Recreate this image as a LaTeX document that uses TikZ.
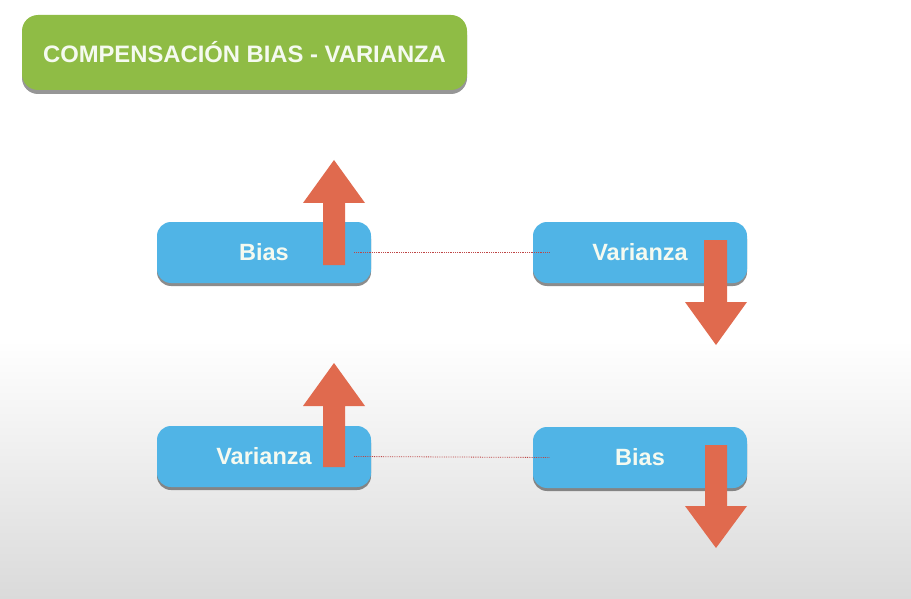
\documentclass[tikz,border=0pt]{standalone}
\usepackage{fontspec}
\setmainfont{Liberation Sans}
\usetikzlibrary{shadows}
\definecolor{titlegreen}{RGB}{143,188,69}
\definecolor{boxblue}{RGB}{80,180,230}
\definecolor{arrowred}{RGB}{224,106,78}
\definecolor{dotred}{RGB}{190,70,70}
\definecolor{txtwhite}{RGB}{245,250,240}
\definecolor{bggray}{RGB}{218,218,218}
\tikzset{
  titlebox/.style={fill=titlegreen, rounded corners=16pt, minimum width=445pt, minimum height=75pt,
    text=txtwhite, font=\fontsize{23.8}{27}\selectfont\bfseries,
    drop shadow={shadow xshift=0pt, shadow yshift=-4pt, opacity=.55, fill=black!75}},
  bluebox/.style={fill=boxblue, rounded corners=14pt, minimum width=214pt, minimum height=61pt,
    text=txtwhite, font=\fontsize{23.5}{27}\selectfont\bfseries,
    drop shadow={shadow xshift=0pt, shadow yshift=-3pt, opacity=.6, fill=black!75}},
  bigarrow/.style={fill=arrowred, draw=none},
  dotlink/.style={draw=dotred, densely dotted, line width=0.8pt}
}
\begin{document}
\begin{tikzpicture}[x=1pt, y=-1pt]
  \useasboundingbox (0,0) rectangle (911,599);
  % background
  \fill[white] (0,0) rectangle (911,341);
  \shade[top color=white, bottom color=bggray] (0,340) rectangle (911,599);

  % title
  \node[titlebox] (title) at (244.5,52.5) {COMPENSACIÓN BIAS - VARIANZA};

  % boxes
  \node[bluebox] (bias1) at (264,252.5) {Bias};
  \node[bluebox] (var1)  at (640,252.5) {Varianza};
  \node[bluebox] (var2)  at (264,456.5) {Varianza};
  \node[bluebox] (bias2) at (640,457.5) {Bias};

  % dotted links
  \draw[dotlink] ([xshift=-17pt]bias1.east) -- ([xshift=17pt]var1.west);
  \draw[dotlink] ([xshift=-17pt]var2.east) -- ([xshift=17pt]bias2.west);

  % arrows up
  \fill[bigarrow] (323,265) -- (323,203) -- (303,203) -- (334,160) -- (365,203) -- (345,203) -- (345,265) -- cycle;
  \fill[bigarrow] (323,467) -- (323,406) -- (303,406) -- (334,363) -- (365,406) -- (345,406) -- (345,467) -- cycle;
  % arrows down
  \fill[bigarrow] (704,240) -- (704,302) -- (685,302) -- (716,345) -- (747,302) -- (727,302) -- (727,240) -- cycle;
  \fill[bigarrow] (705,445) -- (705,506) -- (685,506) -- (716,548) -- (747,506) -- (727,506) -- (727,445) -- cycle;
\end{tikzpicture}
\end{document}
